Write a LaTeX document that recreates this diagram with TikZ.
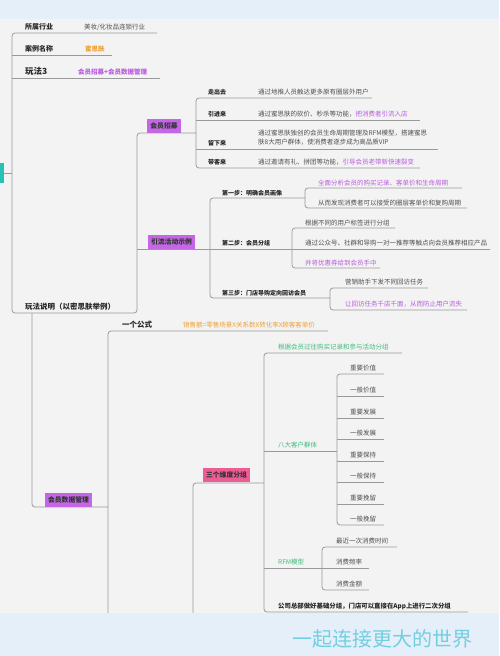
\documentclass[tikz,border=0pt]{standalone}
\usepackage{fontspec}
\setmainfont{Noto Sans CJK SC}
\definecolor{bandblue}{HTML}{E4EFFA}
\definecolor{paper}{HTML}{F3F3F3}
\definecolor{linegray}{HTML}{9A9A9A}
\definecolor{textgray}{HTML}{505050}
\definecolor{hlpurple}{HTML}{B85BDC}
\definecolor{hlorange}{HTML}{F0A02E}
\definecolor{hlgreen}{HTML}{3DBE7A}
\definecolor{tagpurple}{HTML}{C466E6}
\definecolor{tagpink}{HTML}{EE5C95}
\definecolor{rootteal}{HTML}{26C2B5}
\definecolor{wmcyan}{HTML}{72CFE0}
\tikzset{
  link/.style={draw=linegray, line width=0.8pt, rounded corners=3pt},
  lbl/.style={anchor=base west, inner sep=0pt},
  head/.style={lbl, font=\bfseries\fontsize{6}{6}\selectfont, text=black!85},
  topic/.style={lbl, font=\bfseries\fontsize{7}{7}\selectfont, text=black!85},
  note/.style={lbl, font=\fontsize{6.5}{6.5}\selectfont, text=textgray},
  tag/.style={fill=#1, inner xsep=3pt, inner ysep=0pt, minimum height=14pt,
    font=\bfseries\fontsize{6.8}{6.8}\selectfont, text=black!80},
}
\begin{document}
\begin{tikzpicture}[x=1pt, y=-1pt]
    \useasboundingbox (0,0) rectangle (499,656);
    % paper and bands
    \fill[paper] (0,19) rectangle (499,613);
    \fill[bandblue] (0,0) rectangle (499,19);

    % root and its spine
    \fill[rootteal] (0,163) rectangle (4,183);
    \draw[link] (4,173) -- (12,173);
    \draw[link] (157,33) -- (12,33) -- (12,313) -- (137,313) -- (137,133) -- (196,133);
    \draw[link] (12,55) -- (112,55);
    \draw[link] (12,78) -- (160,78);

    % case info
    \node[topic] (industry) at (25,29) {所属行业};
    \node[note] (industryval) at (84,29) {美妆/化妆品连锁行业};
    \node[topic] (casename) at (25,51) {案例名称};
    \node[note, text=hlorange, font=\bfseries\fontsize{6.5}{6.5}\selectfont] (caseval) at (85,51) {蜜思肤};
    \node[topic, font=\bfseries\fontsize{8.5}{8.5}\selectfont] (play) at (25,74) {玩法3};
    \node[note, text=hlpurple, font=\bfseries\fontsize{6.5}{6.5}\selectfont] (playval) at (78,74) {会员招募+会员数据管理};
    \node[topic, font=\bfseries\fontsize{7.5}{7.5}\selectfont] (desc) at (25,309) {玩法说明（以密思肤举例）};

    % member recruiting
    \node[tag=tagpurple] (recruit) at (164,126) {会员招募};
    \draw[link] (372,98) -- (196,98) -- (196,168) -- (420,168);
    \draw[link] (196,120) -- (420,120);
    \draw[link] (196,149) -- (438,149);
    \node[head] (goout) at (208,94) {走出去};
    \node[note] (goouttxt) at (258,94) {通过地推人员触达更多原有圈层外用户};
    \node[head] (bringin) at (208,116) {引进来};
    \node[note] (bringintxt) at (258,116) {通过蜜思肤的砍价、秒杀等功能，\textcolor{hlpurple}{把消费者引流入店}};
    \node[head] (keep) at (208,145) {留下来};
    \node[note] (keeptxta) at (258,135) {通过蜜思肤独创的会员生命周期管理及RFM模型，搭建蜜思};
    \node[note] (keeptxtb) at (258,144.5) {肤8大用户群体，使消费者逐步成为高品质VIP};
    \node[head] (refer) at (208,164) {带客来};
    \node[note] (refertxt) at (258,164) {通过邀请有礼、拼团等功能，\textcolor{hlpurple}{引导会员老带新快速裂变}};

    % traffic campaign example
    \draw[link] (137,249) -- (210,249);
    \node[tag=tagpurple] (campaign) at (171.5,241.5) {引流活动示例};
    \draw[link] (305,198) -- (210,198) -- (210,298) -- (330,298);
    \draw[link] (210,249) -- (292,249);
    \node[head] (stepone) at (222,195) {第一步：明确会员画像};
    \draw[link] (462,188) -- (305,188) -- (305,208) -- (467,208);
    \node[note, text=hlpurple] (steponea) at (318,185) {全面分析会员的购买记录、客单价和生命周期};
    \node[note] (steponeb) at (318,205) {从而发现消费者可以接受的圈层客单价和复购周期};
    \node[head] (steptwo) at (222,245) {第二步：会员分组};
    \draw[link] (395,228) -- (292,228) -- (292,268) -- (380,268);
    \draw[link] (292,249) -- (490,249);
    \node[note] (steptwoa) at (305,225) {根据不同的用户标签进行分组};
    \node[note] (steptwob) at (305,245) {通过公众号、社群和导购一对一推荐等触点向会员推荐相应产品};
    \node[note, text=hlpurple] (steptwoc) at (305,265) {并将优惠券给到会员手中};
    \node[head] (stepthree) at (222,295) {第三步：门店导购定向回访会员};
    \draw[link] (428,288) -- (330,288) -- (330,310) -- (467,310);
    \node[note] (stepthreea) at (345,284.5) {营销助手下发不同回访任务};
    \node[note, text=hlpurple] (stepthreeb) at (345,306) {让回访任务千店千面，从而防止用户流失};

    % member data management
    \draw[link] (32,313) -- (32,507) -- (108,507);
    \node[tag=tagpurple] (datamgmt) at (68.5,499.5) {会员数据管理};
    \draw[link] (328,331) -- (108,331) -- (108,620);
    \node[topic, font=\bfseries\fontsize{7.5}{7.5}\selectfont] (formula) at (122,327) {一个公式};
    \node[note, text=hlorange] (formulatxt) at (183,327) {销售额=零售场景X关系数X转化率X顾客客单价};

    % three dimensions
    \draw[link] (193,620) -- (193,483) -- (264,483);
    \node[tag=tagpink] (threedim) at (226.5,475) {三个维度分组};
    \draw[link] (402,353) -- (264,353) -- (264,612) -- (468,612);
    \node[note, text=hlgreen] (bypurchase) at (278,349) {根据会员过往购买记录和参与活动分组};
    \draw[link] (264,451) -- (337,451);
    \node[note, text=hlgreen] (eightgroups) at (278,447) {八大客户群体};
    \draw[link] (384,374) -- (337,374) -- (337,525) -- (384,525);
    \foreach \yy in {396,418,439,461,482,504}
        \draw[link] (337,\yy) -- (384,\yy);
    \foreach \name/\txt/\yy in {ga/重要价值/374, gb/一般价值/396, gc/重要发展/418, gd/一般发展/439,
                               ge/重要保持/461, gf/一般保持/482, gg/重要挽留/504, gh/一般挽留/525}
        \node[note] (\name) at (350,\yy-4) {\txt};
    \draw[link] (264,568) -- (369,568);
    \node[note, text=hlgreen] (rfm) at (278,564) {RFM模型};
    \draw[link] (397,547) -- (322,547) -- (322,590) -- (369,590);
    \node[note] (recency) at (336,543) {最近一次消费时间};
    \node[note] (frequency) at (336,564) {消费频率};
    \node[note] (monetary) at (336,586) {消费金额};
    \node[lbl, font=\bfseries\fontsize{6.4}{6.4}\selectfont, text=black!85] (hqgroup) at (278,608) {公司总部做好基础分组，门店可以直接在App上进行二次分组};

    % bottom band with watermark
    \fill[bandblue] (0,613) rectangle (499,656);
    \node[lbl, font=\fontsize{20}{20}\selectfont, text=wmcyan] (watermark) at (292,646) {一起连接更大的世界};
\end{tikzpicture}
\end{document}
